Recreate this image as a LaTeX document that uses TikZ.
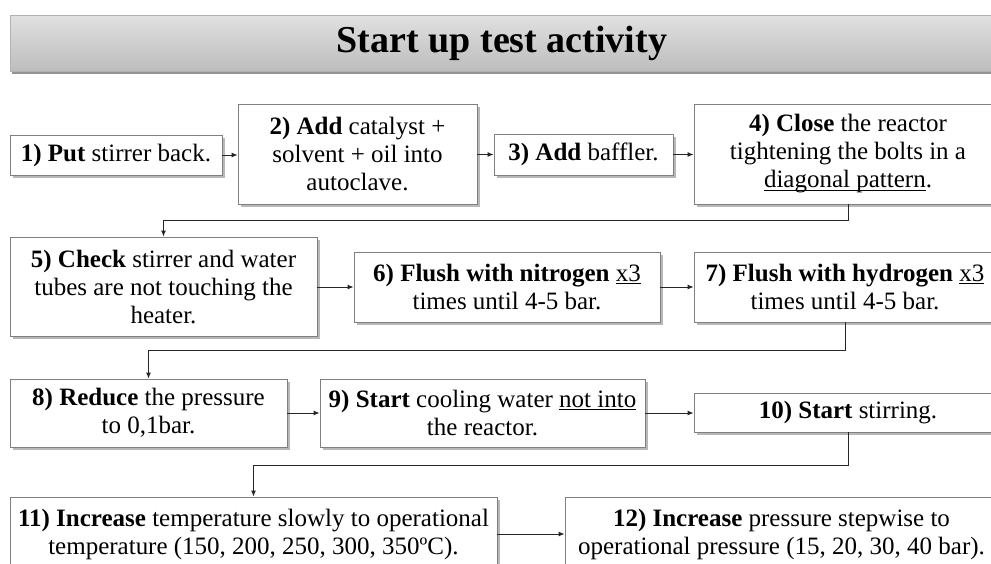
\documentclass[tikz,border=0pt]{standalone}
\usepackage{fontspec}
\setmainfont{Liberation Serif}
\usetikzlibrary{shadows,arrows.meta}
\newsavebox\myulbox
\newcommand\myul[1]{\sbox\myulbox{#1}\rlap{\rule[-2.6pt]{\wd\myulbox}{0.9pt}}\usebox\myulbox}
\begin{document}
\begin{tikzpicture}[x=1pt,y=-1pt,
  box/.style={draw=black!50, line width=0.8pt, fill=white, align=center, inner sep=2pt,
    drop shadow={shadow xshift=2.5pt, shadow yshift=-2.5pt, opacity=0.5, fill=black!55},
    font=\fontsize{25}{28}\selectfont},
  conn/.style={draw=black!85, line width=1pt, -{Latex[length=6pt,width=5pt]}},
  titlebar/.style={draw=black!30, line width=0.6pt, top color=black!12, bottom color=black!26,
    drop shadow={shadow xshift=1.5pt, shadow yshift=-3pt, opacity=0.6, fill=black!70},
    font=\fontsize{38}{40}\selectfont\bfseries}]
\useasboundingbox (0,0) rectangle (991,563);
\clip (0,0) rectangle (991,563);
\fill[white] (0,0) rectangle (991,563);

\node[titlebar, minimum width=984pt, minimum height=56pt] (title) at (502,43) {\raisebox{-3pt}{Start up test activity}};

\node[box, minimum width=212pt, minimum height=40pt] (n1) at (116,155) {\textbf{1) Put} stirrer back.};
\node[box, minimum width=239pt, minimum height=100pt] (n2) at (357.5,154) {\textbf{2) Add} catalyst +\\solvent + oil into\\autoclave.};
\node[box, minimum width=179pt, minimum height=41pt] (n3) at (583.5,154.5) {\textbf{3) Add} baffler.};
\node[box, minimum width=308pt, minimum height=100pt] (n4) at (848,154) {\textbf{4) Close} the reactor\\tightening the bolts in a\\\myul{diagonal pattern}.};

\node[box, minimum width=307pt, minimum height=99pt] (n5) at (163.5,286.5) {\textbf{5) Check} stirrer and water\\tubes are not touching the\\heater.};
\node[box, minimum width=306pt, minimum height=70pt] (n6) at (507,287) {\textbf{6) Flush with nitrogen} \myul{x3}\\times until 4-5 bar.};
\node[box, minimum width=302pt, minimum height=70pt] (n7) at (845,287) {\textbf{7) Flush with hydrogen} \myul{x3}\\times until 4-5 bar.};

\node[box, minimum width=277pt, minimum height=68pt] (n8) at (148.5,413) {\textbf{8) Reduce} the pressure\\to 0,1bar.};
\node[box, minimum width=325pt, minimum height=68pt] (n9) at (482.5,413) {\textbf{9) Start} cooling water \myul{not into}\\the reactor.};
\node[box, minimum width=308pt, minimum height=39pt] (n10) at (848,412.5) {\textbf{10) Start} stirring.};

\node[box, minimum width=487pt, minimum height=74pt] (n11) at (253.5,534) {\textbf{11) Increase} temperature slowly to operational\\temperature (150, 200, 250, 300, 350ºC).};
\node[box, minimum width=433pt, minimum height=74pt] (n12) at (781.5,534) {\textbf{12) Increase} pressure stepwise to\\operational pressure (15, 20, 30, 40 bar).};

\draw[conn] (n1.east) -- (n1.east -| n2.west);
\draw[conn] (n2.east |- n3.west) -- (n3.west);
\draw[conn] (n3.east) -- (n3.east -| n4.west);
\draw[conn] (n4.south) -- ++(0,16) -| (n5.north);
\draw[conn] (n5.east |- n6.west) -- (n6.west);
\draw[conn] (n6.east) -- (n7.west);
\draw[conn] (n7.south) -- ++(0,28) -| (n8.north);
\draw[conn] (n8.east) -- (n9.west);
\draw[conn] (n9.east) -- (n9.east -| n10.west);
\draw[conn] (n10.south) -- ++(0,33) -| (n11.north);
\draw[conn] (n11.east) -- (n12.west);
\end{tikzpicture}
\end{document}
